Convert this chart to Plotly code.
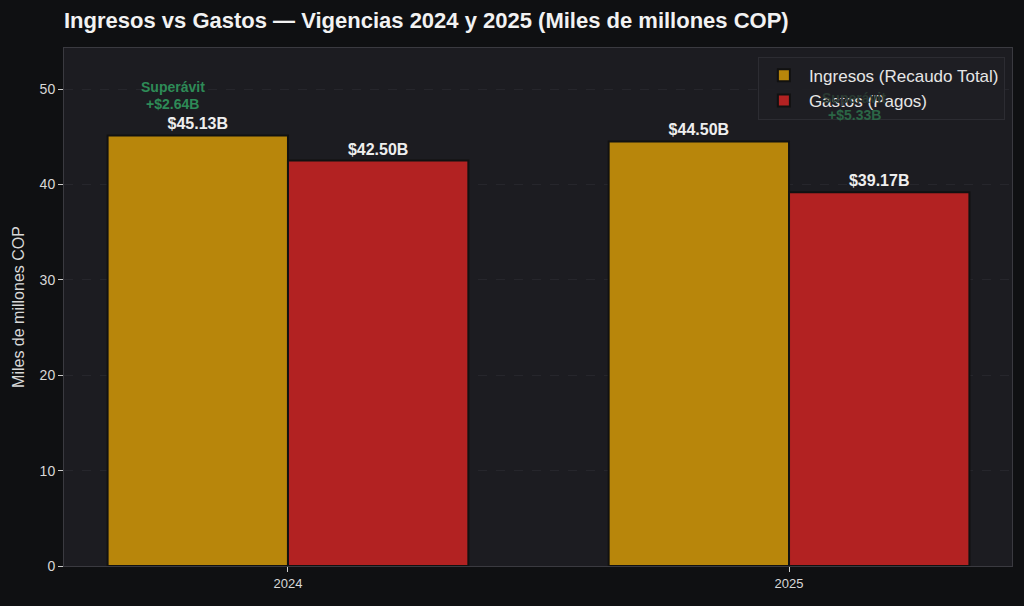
import plotly.graph_objects as go

years = ['2024', '2025']
ingresos = [45.13, 44.50]
gastos = [42.50, 39.17]
superavit = [2.64, 5.33]
ingresos_txt = ['$45.13B', '$44.50B']
gastos_txt = ['$42.50B', '$39.17B']

BG = '#0f1012'
PLOT_BG = '#1c1c21'
FONT = 'Liberation Sans, Arial, sans-serif'

fig = go.Figure()
fig.add_trace(go.Bar(x=years, y=ingresos, name='Ingresos (Recaudo Total)',
                     marker=dict(color='#b8860b', line=dict(color='#111111', width=2)),
                     text=ingresos_txt, textposition='outside', cliponaxis=False,
                     textfont=dict(color='#eeeeee', size=16, family=FONT, weight='bold')))
fig.add_trace(go.Bar(x=years, y=gastos, name='Gastos (Pagos)',
                     marker=dict(color='#b22222', line=dict(color='#111111', width=2)),
                     text=gastos_txt, textposition='outside', cliponaxis=False,
                     textfont=dict(color='#eeeeee', size=16, family=FONT, weight='bold')))

# surplus notes; the 2025 one sits behind the legend in the original, so it is dimmed
offsets = [-0.23, 0.13]
heights = [49.3, 48.1]
label_cols = ['#2e8b57', '#2a3a32']
value_cols = ['#2e8b57', '#2b6646']
for i, yr in enumerate(years):
    fig.add_annotation(x=i + offsets[i], y=heights[i], xref='x', yref='y', yshift=9,
                       text='Superávit', showarrow=False,
                       font=dict(color=label_cols[i], size=14, family=FONT, weight='bold'))
    fig.add_annotation(x=i + offsets[i], y=heights[i], xref='x', yref='y', yshift=-8,
                       text='+$%.2fB' % superavit[i], showarrow=False,
                       font=dict(color=value_cols[i], size=14, family=FONT, weight='bold'))

fig.update_layout(
    width=1024, height=606,
    paper_bgcolor=BG, plot_bgcolor=PLOT_BG,
    font=dict(family=FONT, color='#d8d8d8', size=13),
    title=dict(text='<b>Ingresos vs Gastos — Vigencias 2024 y 2025 (Miles de millones COP)</b>',
               x=0.0625, xanchor='left', y=0.966, yanchor='middle',
               font=dict(size=22, color='#f2f2f2', family=FONT)),
    margin=dict(l=64, r=12, t=48, b=40),
    barmode='group', bargap=0.28, bargroupgap=0,
    showlegend=True,
    legend=dict(x=0.9925, y=0.983, xanchor='right', yanchor='top',
                bgcolor='rgba(30,30,35,0.85)', bordercolor='#2c2c32', borderwidth=1,
                itemwidth=40,
                font=dict(size=17, color='#e6e6e6', family=FONT)),
)
fig.update_xaxes(type='category', range=[-0.447, 1.445], showgrid=False,
                 ticks='outside', ticklen=5, tickcolor='#cccccc',
                 showline=True, linecolor='#3a3a40', mirror=True,
                 tickfont=dict(size=13, color='#d8d8d8'))
fig.update_yaxes(range=[0, 54.3], dtick=10, ticks='outside', ticklen=5, tickcolor='#cccccc',
                 showgrid=True, gridcolor='#26262c', griddash='dash', zeroline=False,
                 showline=True, linecolor='#3a3a40', mirror=True,
                 title=dict(text='Miles de millones COP', font=dict(size=16, color='#d8d8d8'), standoff=11),
                 tickfont=dict(size=14, color='#d8d8d8'))

fig.write_html('out.html', config={'displayModeBar': False},
               post_script="document.body.style.margin='0';document.body.style.background='#0f1012';")
